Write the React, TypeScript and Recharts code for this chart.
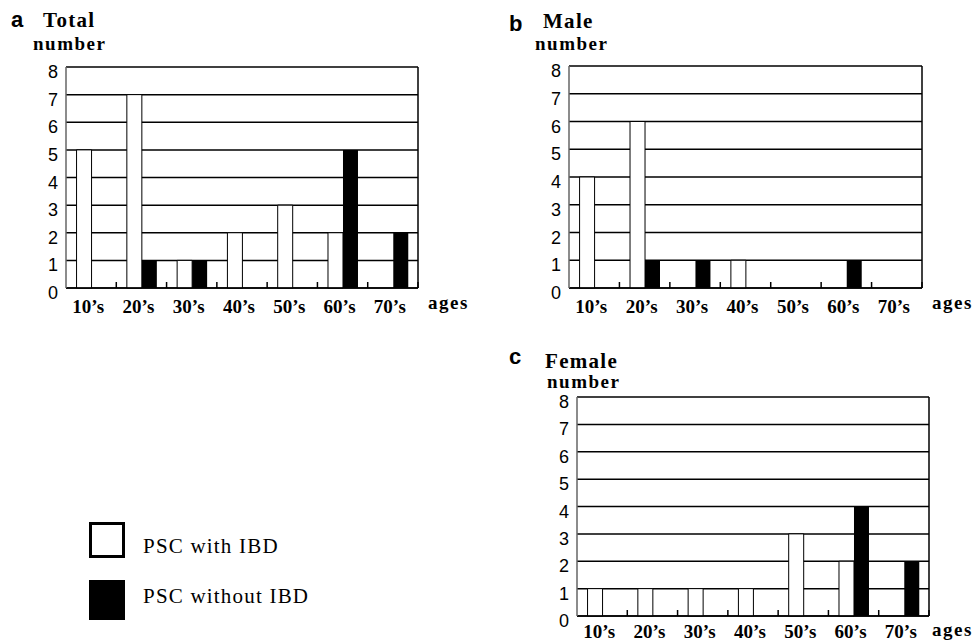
import React from 'react';
import { BarChart, Bar, XAxis, YAxis, CartesianGrid } from 'recharts';

const ages = ["10’s", "20’s", "30’s", "40’s", "50’s", "60’s", "70’s"];
const yTicks = [0, 1, 2, 3, 4, 5, 6, 7, 8];

const totalWith = [5, 7, 1, 2, 3, 2, 0];
const totalWithout = [0, 1, 1, 0, 0, 5, 2];
const maleWith = [4, 6, 0, 1, 0, 0, 0];
const maleWithout = [0, 1, 1, 0, 0, 1, 0];
const femaleWith = [1, 1, 1, 1, 3, 2, 0];
const femaleWithout = [0, 0, 0, 0, 0, 4, 2];

const SERIF = 'Liberation Serif, DejaVu Serif, Times New Roman, serif';
const SANS = 'Liberation Sans, Arial, sans-serif';
const Y_W = 30;
const X_H = 27;

const serifBold: React.CSSProperties = { fontFamily: SERIF, fontWeight: 700 };

const AgeTick = ({ x, y, payload, band, drop }: any) => (
  <g>
    <line x1={x + band / 2} x2={x + band / 2} y1={y} y2={y - 6} stroke="#000" strokeWidth={1.5} />
    <text x={x - 3} y={y + drop} textAnchor="middle" style={{ ...serifBold, fontSize: 19 }}>
      {payload.value}
    </text>
  </g>
);

const CountTick = ({ x, y, payload }: any) => (
  <text x={x} y={y + 11} textAnchor="end" style={{ fontFamily: SANS, fontSize: 18 }} fill="#000">
    {payload.value}
  </text>
);

interface PanelProps {
  withIbd: number[];
  withoutIbd: number[];
  left: number;
  top: number;
  width: number;
  height: number;
  drop: number;
  margin: { top: number; right: number; bottom: number; left: number };
}

const Panel = ({ withIbd, withoutIbd, left, top, width, height, drop, margin }: PanelProps) => {
  const data = ages.map((age, i) => ({ age, with: withIbd[i], without: withoutIbd[i] }));
  const band = (width - margin.left - margin.right - Y_W) / ages.length;
  return (
    <div style={{ position: 'absolute', left, top }}>
      <BarChart
        width={width}
        height={height}
        data={data}
        margin={margin}
        barCategoryGap="21%"
        barGap={0}
        style={{ overflow: 'visible' }}
      >
        <CartesianGrid
          stroke="#000"
          strokeWidth={1.5}
          vertical={true}
          verticalCoordinatesGenerator={({ offset }: any) => [offset.left + offset.width]}
        />
        <XAxis
          dataKey="age"
          height={X_H}
          tickSize={0}
          tickMargin={0}
          tickLine={false}
          axisLine={{ stroke: '#000', strokeWidth: 1.5 }}
          interval={0}
          tick={<AgeTick band={band} drop={drop} />}
        />
        <YAxis
          width={Y_W}
          domain={[0, 8]}
          ticks={yTicks}
          interval={0}
          tickSize={0}
          tickMargin={8}
          tickLine={false}
          axisLine={{ stroke: '#666', strokeWidth: 1.5 }}
          tick={<CountTick />}
        />
        <Bar dataKey="with" fill="#fff" stroke="#000" strokeWidth={1} isAnimationActive={false} />
        <Bar dataKey="without" fill="#000" isAnimationActive={false} />
      </BarChart>
    </div>
  );
};

const App = () => {
  return (
    <div style={{ position: 'absolute', left: 0, top: 0, width: 974, height: 643, background: '#fff', overflow: 'hidden' }}>
      <Panel withIbd={totalWith} withoutIbd={totalWithout} left={0} top={0} width={480} height={330} drop={25}
        margin={{ top: 67, right: 62, bottom: 15, left: 36 }} />
      <Panel withIbd={maleWith} withoutIbd={maleWithout} left={480} top={0} width={494} height={330} drop={25}
        margin={{ top: 66, right: 52, bottom: 15, left: 59 }} />
      <Panel withIbd={femaleWith} withoutIbd={femaleWithout} left={480} top={330} width={494} height={313} drop={22}
        margin={{ top: 67, right: 45, bottom: 0, left: 67 }} />

      <svg width={974} height={643} style={{ position: 'absolute', left: 0, top: 0, pointerEvents: 'none' }}>
        <g style={{ fontFamily: SANS, fontWeight: 700, fontSize: 22 }}>
          <text x={11} y={27}>a</text>
          <text x={509} y={31}>b</text>
          <text x={509} y={364}>c</text>
        </g>
        <g style={{ ...serifBold, fontSize: 21, letterSpacing: 1.3 }}>
          <text x={43} y={27}>Total</text>
          <text x={543} y={28}>Male</text>
          <text x={545} y={368}>Female</text>
        </g>
        <g style={{ ...serifBold, fontSize: 19, letterSpacing: 1.5 }}>
          <text x={33} y={50}>number</text>
          <text x={535} y={50}>number</text>
          <text x={547} y={388}>number</text>
          <text x={428} y={309}>ages</text>
          <text x={932} y={309}>ages</text>
          <text x={932} y={636}>ages</text>
        </g>
        <rect x={90.5} y={523.5} width={33} height={33} fill="#fff" stroke="#000" strokeWidth={3} />
        <rect x={89} y={580} width={36} height={40} fill="#000" />
        <g style={{ fontFamily: SERIF, fontSize: 21, letterSpacing: 1.2 }}>
          <text x={143} y={553}>PSC with IBD</text>
          <text x={143} y={603}>PSC without  IBD</text>
        </g>
      </svg>
    </div>
  );
};

export default App;
